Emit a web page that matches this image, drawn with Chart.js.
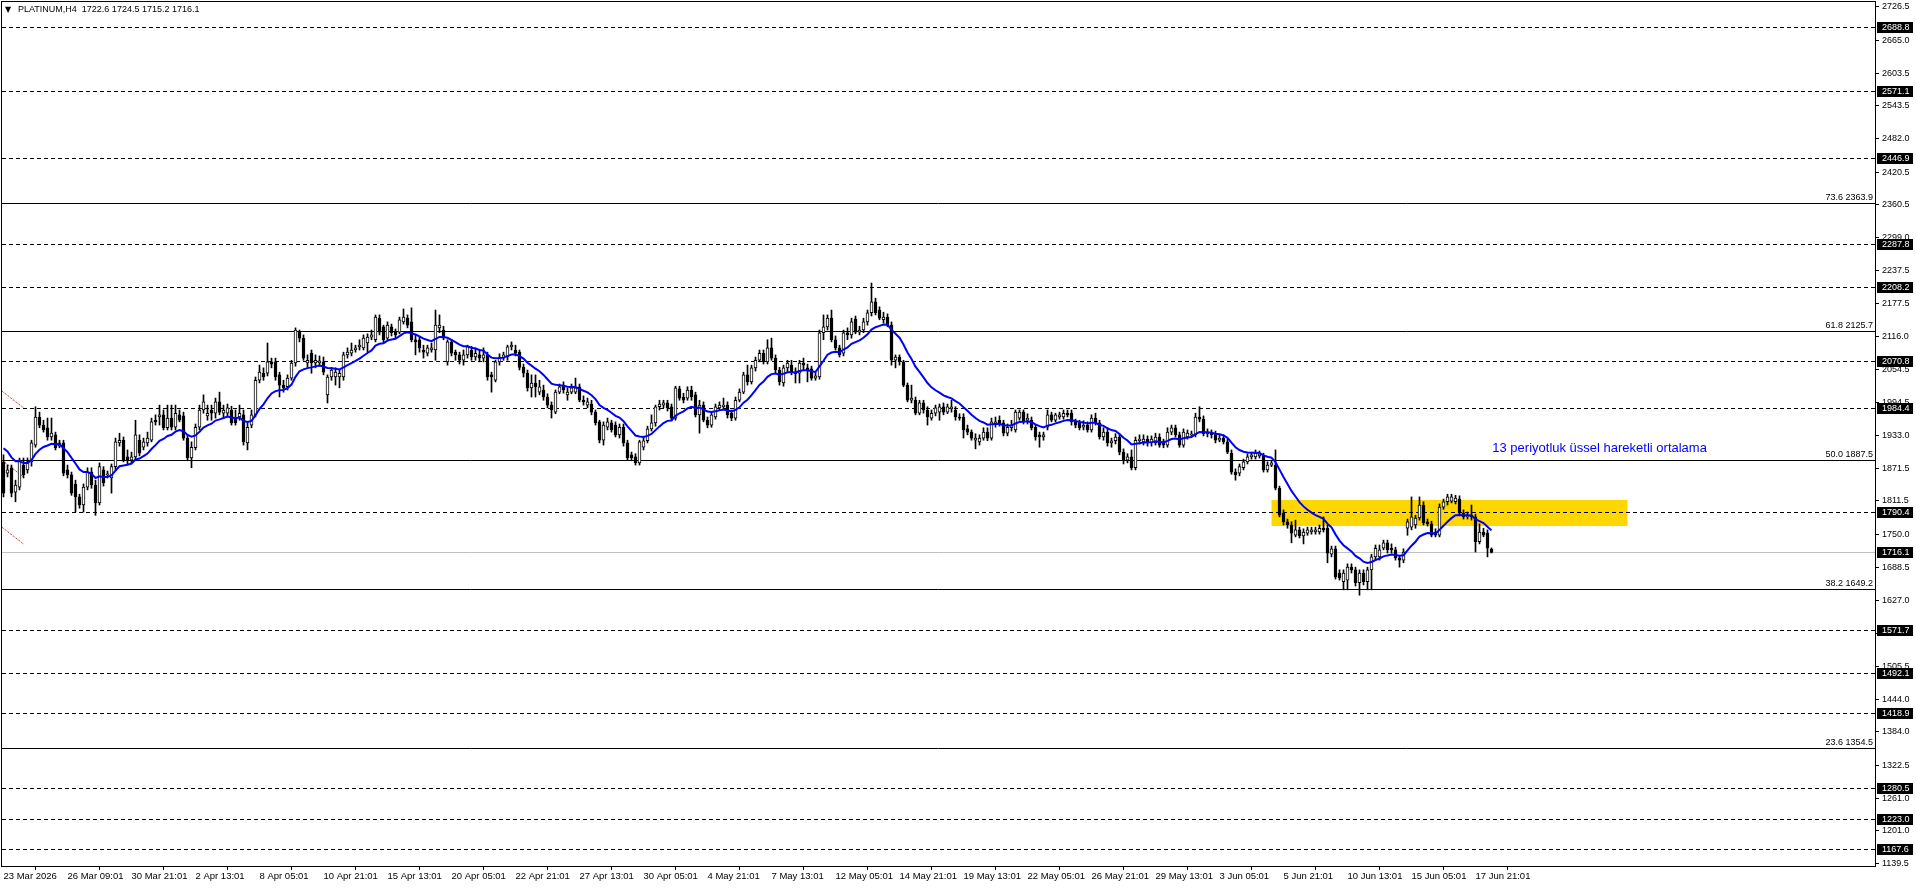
<!DOCTYPE html>
<html>
<head>
<meta charset="utf-8">
<title>PLATINUM,H4</title>
<script src="https://cdn.jsdelivr.net/npm/chart.js@4.4.1/dist/chart.umd.min.js"></script>
<style>
  html, body { margin: 0; padding: 0; background: #fff; }
  #wrap { width: 1916px; height: 888px; }
</style>
</head>
<body>
<div id="wrap"><canvas id="chart" width="1916" height="888"></canvas></div>
<script>
// H4 candles (one row = 10 candles)
const open = [
  1884,1863,1873,1828,1837,1878,1869,1884,1915,1967,
  1952,1947,1930,1934,1913,1919,1869,1860,1843,1819,
  1804,1837,1865,1841,1808,1869,1860,1854,1875,1919,
  1924,1893,1887,1893,1924,1911,1919,1924,1961,1967,
  1971,1947,1965,1948,1971,1969,1928,1891,1910,1948,
  1980,1969,1980,1974,1995,1974,1974,1980,1965,1967,
  1971,1919,1952,1971,2035,2048,2048,2069,2069,2045,
  2026,2023,2039,2067,2124,2113,2067,2085,2067,2067,
  2069,2008,2041,2041,2041,2041,2082,2085,2091,2097,
  2095,2104,2115,2110,2150,2134,2113,2134,2124,2124,
  2143,2150,2143,2110,2110,2091,2085,2091,2091,2132,
  2128,2069,2106,2087,2082,2072,2082,2091,2078,2082,
  2076,2082,2045,2035,2069,2076,2078,2097,2091,2087,
  2059,2048,2021,2030,2013,2017,2004,1989,1976,2013,
  2026,2008,2013,2013,2023,1998,1989,1991,1976,1958,
  1924,1948,1956,1952,1934,1948,1919,1897,1893,1882,
  1911,1923,1945,1956,1986,1989,1993,1986,1965,2019,
  2004,2002,2017,2008,1971,1989,1961,1952,1967,1984,
  1986,1989,1974,1965,1998,2013,2045,2032,2058,2072,
  2085,2069,2095,2076,2054,2030,2058,2063,2050,2048,
  2067,2058,2056,2039,2041,2123,2134,2150,2110,2095,
  2085,2123,2119,2148,2124,2128,2143,2160,2180,2165,
  2147,2152,2137,2072,2078,2069,2026,1998,1998,1974,
  1993,1980,1965,1974,1976,1986,1976,1982,1980,1967,
  1967,1945,1939,1924,1921,1928,1939,1928,1954,1961,
  1956,1937,1947,1943,1965,1976,1961,1961,1948,1934,
  1930,1948,1971,1961,1967,1967,1974,1974,1958,1956,
  1948,1952,1943,1965,1956,1930,1939,1919,1923,1930,
  1902,1887,1893,1873,1923,1921,1926,1919,1919,1930,
  1921,1915,1939,1947,1934,1915,1930,1934,1934,1967,
  1963,1936,1937,1936,1924,1928,1921,1900,1865,1863,
  1873,1884,1893,1893,1895,1895,1869,1878,1878,1835,
  1789,1773,1767,1748,1758,1747,1752,1754,1754,1754,
  1761,1761,1713,1723,1678,1662,1665,1689,1684,1660,
  1678,1662,1684,1708,1708,1724,1734,1724,1721,1706,
  1702,1761,1763,1767,1780,1804,1773,1769,1754,1748,
  1800,1810,1811,1810,1815,1789,1782,1785,1782,1736,
  1754,1752,1722.6
];
const high = [
  1897,1878,1878,1850,1891,1891,1891,1924,1986,1976,
  1961,1965,1965,1939,1924,1924,1878,1865,1850,1824,
  1843,1873,1873,1850,1882,1875,1867,1880,1928,1937,
  1930,1906,1902,1961,1934,1928,1939,1965,1971,1989,
  1980,1989,1989,1989,1980,1976,1934,1921,1954,1989,
  2008,1989,1989,2002,2013,1989,1991,1987,1980,1989,
  1980,1958,1980,2041,2063,2058,2104,2076,2076,2050,
  2035,2045,2072,2132,2128,2119,2082,2091,2082,2080,
  2078,2045,2059,2058,2054,2087,2095,2104,2100,2110,
  2119,2121,2128,2156,2156,2137,2143,2139,2130,2152,
  2167,2156,2169,2119,2115,2100,2100,2104,2165,2156,
  2135,2110,2110,2091,2087,2091,2100,2098,2095,2091,
  2095,2087,2050,2072,2084,2087,2100,2106,2100,2091,
  2065,2054,2045,2045,2035,2026,2010,1995,2017,2028,
  2032,2021,2028,2039,2028,2006,2002,1998,1980,1961,
  1958,1965,1961,1958,1954,1954,1924,1902,1899,1924,
  1930,1950,1971,1989,1998,1998,1998,1991,2024,2024,
  2011,2023,2024,2013,1998,1995,1967,1976,1991,1995,
  2002,1995,1980,2004,2019,2050,2063,2063,2078,2091,
  2091,2110,2113,2082,2059,2063,2072,2072,2058,2072,
  2076,2065,2061,2050,2128,2156,2156,2165,2117,2100,
  2128,2132,2150,2154,2135,2150,2165,2215,2187,2171,
  2161,2158,2143,2082,2082,2072,2030,2026,2004,1998,
  1998,1986,1980,1989,1991,1993,1991,1998,1986,1973,
  1973,1952,1943,1936,1934,1947,1947,1965,1967,1969,
  1961,1954,1961,1980,1980,1980,1973,1967,1952,1939,
  1939,1980,1976,1974,1976,1980,1980,1980,1963,1961,
  1960,1958,1971,1974,1961,1947,1945,1928,1936,1936,
  1908,1899,1906,1930,1934,1934,1932,1932,1937,1936,
  1926,1947,1952,1952,1939,1945,1943,1941,1974,1986,
  1969,1945,1943,1941,1934,1934,1926,1906,1871,1880,
  1889,1899,1902,1906,1904,1900,1884,1887,1906,1839,
  1795,1778,1773,1776,1763,1760,1763,1763,1763,1767,
  1782,1767,1728,1728,1684,1684,1695,1695,1689,1684,
  1684,1689,1713,1730,1730,1739,1739,1732,1726,1711,
  1723,1778,1819,1785,1819,1810,1778,1774,1760,1806,
  1815,1824,1824,1822,1821,1795,1791,1804,1787,1769,
  1761,1758,1724.5
];
const low = [
  1819,1856,1819,1810,1832,1854,1863,1876,1911,1947,
  1939,1924,1924,1906,1910,1858,1854,1822,1791,1798,
  1791,1832,1835,1785,1804,1839,1854,1826,1869,1913,
  1884,1880,1882,1887,1895,1906,1913,1921,1952,1952,
  1943,1943,1943,1943,1958,1924,1887,1873,1906,1943,
  1974,1961,1961,1965,1971,1965,1969,1952,1952,1961,
  1915,1906,1947,1967,2030,2035,2043,2058,2035,2004,
  2013,2017,2035,2061,2106,2072,2059,2048,2058,2061,
  2045,1993,2035,2026,2021,2035,2076,2080,2087,2091,
  2091,2087,2110,2106,2119,2104,2110,2117,2113,2121,
  2139,2132,2106,2082,2087,2076,2080,2087,2072,2123,
  2110,2063,2080,2072,2065,2063,2076,2072,2072,2069,
  2069,2035,2013,2032,2063,2072,2072,2091,2080,2054,
  2041,2015,2004,2004,2008,1998,1984,1965,1973,2010,
  2011,1998,2010,2010,1995,1989,1984,1971,1952,1919,
  1915,1943,1939,1930,1928,1913,1887,1886,1878,1878,
  1906,1919,1941,1950,1980,1984,1978,1961,1961,1998,
  1993,1998,1998,1967,1937,1958,1947,1948,1963,1980,
  1980,1965,1960,1961,1995,2010,2026,2028,2052,2069,
  2065,2065,2072,2048,2026,2024,2050,2045,2030,2030,
  2054,2032,2035,2035,2037,2110,2128,2106,2091,2078,
  2080,2110,2113,2121,2119,2123,2137,2154,2156,2147,
  2141,2134,2063,2058,2063,2023,1995,1993,1971,1971,
  1974,1952,1961,1969,1961,1971,1973,1976,1961,1961,
  1928,1934,1924,1908,1915,1924,1923,1924,1948,1950,
  1932,1932,1941,1939,1961,1954,1954,1943,1924,1911,
  1924,1943,1958,1958,1963,1963,1967,1952,1947,1943,
  1943,1939,1939,1952,1926,1924,1913,1911,1917,1897,
  1880,1882,1869,1869,1917,1915,1913,1913,1915,1911,
  1910,1911,1934,1930,1911,1911,1926,1930,1930,1958,
  1932,1930,1928,1919,1921,1917,1899,1861,1850,1858,
  1869,1880,1889,1889,1891,1865,1865,1875,1832,1782,
  1767,1761,1734,1745,1743,1732,1748,1750,1750,1750,
  1754,1697,1708,1667,1665,1647,1647,1678,1654,1637,
  1656,1647,1647,1702,1702,1721,1715,1715,1702,1689,
  1697,1748,1758,1761,1776,1767,1765,1745,1745,1745,
  1796,1804,1808,1806,1785,1778,1778,1776,1717,1732,
  1745,1708,1715.2
];
const close = [
  1826,1869,1826,1841,1887,1860,1884,1919,1967,1952,
  1943,1930,1937,1910,1919,1863,1860,1826,1819,1804,
  1837,1865,1841,1808,1875,1845,1861,1875,1921,1924,
  1887,1887,1893,1934,1900,1921,1928,1958,1958,1971,
  1947,1965,1948,1974,1961,1928,1891,1911,1948,1980,
  1995,1974,1974,1995,1976,1980,1984,1956,1956,1974,
  1921,1948,1971,2035,2050,2041,2069,2065,2041,2026,
  2021,2039,2067,2128,2113,2076,2072,2067,2072,2071,
  2050,2041,2054,2050,2048,2082,2087,2091,2095,2100,
  2113,2115,2119,2152,2124,2110,2137,2123,2119,2147,
  2152,2137,2110,2106,2095,2087,2095,2095,2137,2137,
  2113,2106,2085,2082,2072,2082,2097,2078,2085,2076,
  2082,2041,2041,2069,2078,2082,2097,2100,2085,2059,
  2048,2021,2030,2023,2023,2004,1989,1980,2013,2023,
  2017,2013,2021,2021,1998,1995,1995,1976,1956,1924,
  1952,1958,1943,1934,1948,1919,1891,1891,1882,1921,
  1923,1945,1956,1986,1991,1993,1984,1965,2021,2002,
  1998,2017,2004,1971,1989,1961,1952,1971,1986,1989,
  1989,1971,1965,1998,2013,2045,2032,2058,2072,2085,
  2069,2095,2076,2054,2032,2058,2067,2050,2047,2067,
  2063,2054,2039,2043,2123,2134,2150,2110,2095,2082,
  2123,2119,2143,2124,2128,2143,2160,2180,2160,2150,
  2152,2137,2072,2078,2069,2026,1998,2002,1974,1993,
  1980,1967,1974,1984,1986,1976,1986,1986,1967,1965,
  1943,1939,1928,1928,1928,1939,1928,1958,1958,1956,
  1937,1948,1952,1976,1976,1958,1965,1947,1930,1930,
  1934,1971,1961,1971,1971,1974,1971,1958,1952,1947,
  1952,1943,1965,1956,1930,1939,1919,1923,1930,1902,
  1887,1893,1873,1924,1926,1926,1919,1926,1930,1915,
  1915,1939,1947,1934,1915,1939,1937,1936,1967,1963,
  1936,1939,1934,1924,1928,1921,1902,1865,1860,1875,
  1884,1893,1897,1900,1899,1869,1878,1882,1835,1785,
  1773,1767,1752,1758,1747,1754,1758,1758,1758,1761,
  1758,1715,1723,1671,1669,1678,1689,1684,1660,1678,
  1662,1684,1708,1724,1721,1734,1721,1721,1706,1702,
  1717,1773,1782,1780,1804,1771,1769,1748,1748,1800,
  1810,1819,1819,1817,1789,1782,1785,1782,1736,1754,
  1748,1724,1716.1
];

// time axis: a label every 16 bars
const xTickPos = [0,16,32,48,64,80,96,112,128,144,160,176,192,208,224,240,256,272,288,304,320,336,352,368];
const xLabels = [
  "23 Mar 2026","26 Mar 09:01","30 Mar 21:01","2 Apr 13:01","8 Apr 05:01","10 Apr 21:01",
  "15 Apr 13:01","20 Apr 05:01","22 Apr 21:01","27 Apr 13:01","30 Apr 05:01","4 May 21:01",
  "7 May 13:01","12 May 05:01","14 May 21:01","19 May 13:01","22 May 05:01","26 May 21:01",
  "29 May 13:01","3 Jun 05:01","5 Jun 21:01","10 Jun 13:01","15 Jun 05:01","17 Jun 21:01"
];
const yTicks = [2726.5,2665.0,2603.5,2543.5,2482.0,2420.5,2360.5,2299.0,2237.5,2177.5,2116.0,2054.5,1994.5,
  1933.0,1871.5,1811.5,1750.0,1688.5,1627.0,1566.0,1505.5,1444.0,1384.0,1322.5,1261.0,1201.0,1139.5];

// horizontal levels
const dashedLevels = [2688.8,2571.1,2446.9,2287.8,2208.2,2070.8,1984.4,1790.4,1571.7,1492.1,1418.9,1280.5,1223.0,1167.6];
const fiboLevels = [2363.9,2125.7,1887.5,1649.2,1354.5];
const fiboNames = ["73.6","61.8","50.0","38.2","23.6"];
const lastPrice = 1716.1;

// yellow zone and red fibo trend bits
const zoneFrom = 317, zoneTo = 406, zoneTop = 1813.3, zoneBottom = 1765.2;
const trendFrom = [2015, 1887, 1763];
const trendTo = [1984, 1856, 1732];
const emaNote = "13 periyotluk üssel hareketli ortalama";

// 13 period EMA, seeded with the value where the blue line enters the chart
const emaPeriod = 13;
const emaStart = 1909;
const ema = [];
close.forEach((c, i) => {
  if (i === 0) { ema.push(emaStart); return; }
  const prev = ema[i - 1];
  ema.push(prev + (c - prev) * 2 / (emaPeriod + 1));
});

const FONT = "'Liberation Sans', Arial, 'DejaVu Sans', sans-serif";

const wicks = close.map((c, i) => ({ x: i, y: [low[i], high[i]] }));
const bodies = close.map((c, i) => ({ x: i, y: [open[i], c] }));
const bodyFill = close.map((c, i) => (c >= open[i] ? "#ffffff" : "#000000"));
const emaPts = ema.map((v, i) => ({ x: i, y: v }));

function hline(ctx, area, py, dash, color) {
  const yy = Math.round(py) + 0.5;
  ctx.beginPath();
  ctx.setLineDash(dash);
  ctx.strokeStyle = color;
  ctx.lineWidth = 1;
  ctx.moveTo(area.left, yy);
  ctx.lineTo(area.right, yy);
  ctx.stroke();
  ctx.setLineDash([]);
}

const overlay = {
  id: "overlay",
  beforeDatasetsDraw(chart) {
    const { ctx, chartArea: a, scales: { x, y } } = chart;
    ctx.save();
    ctx.beginPath();
    ctx.rect(a.left, a.top, a.right - a.left, a.bottom - a.top);
    ctx.clip();

    // zone
    const zx1 = x.getPixelForValue(zoneFrom), zx2 = x.getPixelForValue(zoneTo);
    const zy1 = y.getPixelForValue(zoneTop), zy2 = y.getPixelForValue(zoneBottom);
    ctx.fillStyle = "#ffd700";
    ctx.fillRect(zx1, zy1, zx2 - zx1, zy2 - zy1);

    hline(ctx, a, y.getPixelForValue(lastPrice), [], "#c0c0c0");
    dashedLevels.forEach(v => hline(ctx, a, y.getPixelForValue(v), [4, 3], "#000"));
    fiboLevels.forEach(v => hline(ctx, a, y.getPixelForValue(v), [], "#000"));

    // fibo labels
    ctx.font = "9px " + FONT;
    ctx.fillStyle = "#000";
    ctx.textAlign = "right";
    ctx.textBaseline = "bottom";
    fiboLevels.forEach((v, k) => {
      ctx.fillText(fiboNames[k] + " " + v.toFixed(1), a.right - 2, Math.round(y.getPixelForValue(v)) - 1);
    });

    // red dotted trend pieces at the left edge
    ctx.strokeStyle = "#c00000";
    ctx.setLineDash([1, 1]);
    trendFrom.forEach((v, k) => {
      ctx.beginPath();
      ctx.moveTo(x.getPixelForValue(-0.4), y.getPixelForValue(v));
      ctx.lineTo(x.getPixelForValue(5), y.getPixelForValue(trendTo[k]));
      ctx.stroke();
    });
    ctx.setLineDash([]);

    // note
    ctx.font = "13px " + FONT;
    ctx.fillStyle = "#0000ff";
    ctx.textAlign = "left";
    ctx.textBaseline = "middle";
    ctx.fillText(emaNote, x.getPixelForValue(372.2), y.getPixelForValue(1909.6));
    ctx.restore();
  },
  afterDraw(chart) {
    const { ctx, chartArea: a, scales: { y } } = chart;
    ctx.save();
    // frame
    ctx.strokeStyle = "#000";
    ctx.lineWidth = 1;
    ctx.strokeRect(a.left - 0.5, a.top - 0.5, a.right - a.left + 1, a.bottom - a.top + 1);

    // price boxes on the axis
    ctx.font = "9px " + FONT;
    ctx.textAlign = "left";
    ctx.textBaseline = "middle";
    dashedLevels.concat([lastPrice]).forEach(v => {
      const py = Math.round(y.getPixelForValue(v));
      ctx.fillStyle = "#000";
      ctx.fillRect(a.right + 2, py - 5, 36, 11);
      ctx.fillStyle = "#fff";
      ctx.fillText(v.toFixed(1), a.right + 7, py + 0.5);
    });

    // symbol line
    const n = close.length - 1;
    ctx.fillStyle = "#000";
    ctx.font = "8px 'DejaVu Sans', sans-serif";
    ctx.fillText("\u25BC", 5, 10);
    ctx.font = "9px " + FONT;
    ctx.fillText("PLATINUM,H4  " + [open[n], high[n], low[n], close[n]].map(v => v.toFixed(1)).join(" "), 18, 10);
    ctx.restore();
  }
};

new Chart(document.getElementById("chart"), {
  type: "bar",
  data: {
    datasets: [
      {
        type: "line", data: emaPts, borderColor: "#0000ff", borderWidth: 2,
        pointRadius: 0, tension: 0, order: -1
      },
      {
        data: bodies, backgroundColor: bodyFill, borderColor: "#000", borderWidth: 1,
        borderSkipped: false, barThickness: 3, minBarLength: 1, grouped: false, order: 0
      },
      {
        data: wicks, backgroundColor: "#000", borderWidth: 0,
        barThickness: 1, grouped: false, order: 1
      }
    ]
  },
  options: {
    responsive: false,
    animation: false,
    events: [],
    layout: { padding: { top: 2, left: 2, right: 0, bottom: 0 } },
    plugins: { legend: { display: false }, tooltip: { enabled: false } },
    scales: {
      x: {
        type: "linear", min: -0.375, max: 467.875, offset: false,
        afterFit: s => { s.height = 22; s.paddingLeft = 0; s.paddingRight = 0; },
        afterBuildTicks: s => { s.ticks = xTickPos.map(v => ({ value: v })); },
        grid: { drawOnChartArea: false, drawTicks: true, tickLength: 4, color: "#000" },
        border: { display: true, color: "#000" },
        ticks: {
          autoSkip: false, maxRotation: 0, align: "start", padding: 1, color: "#000",
          font: { family: FONT, size: 9.5 },
          callback: v => xLabels[xTickPos.indexOf(v)]
        }
      },
      y: {
        type: "linear", position: "right", min: 1135.6, max: 2735.4,
        afterFit: s => { s.width = 41; s.paddingTop = 0; s.paddingBottom = 0; },
        afterBuildTicks: s => { s.ticks = yTicks.map(v => ({ value: v })); },
        grid: { drawOnChartArea: false, drawTicks: true, tickLength: 4, color: "#000" },
        border: { display: true, color: "#000" },
        ticks: {
          autoSkip: false, padding: 3, color: "#000",
          font: { family: FONT, size: 9 },
          callback: v => v.toFixed(1)
        }
      }
    }
  },
  plugins: [overlay]
});
</script>
</body>
</html>
